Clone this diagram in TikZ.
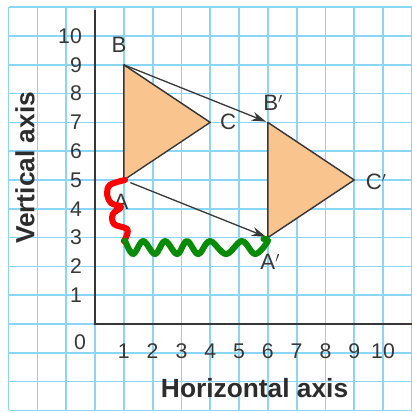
\documentclass[tikz,border=0pt]{standalone}
\usepackage{fontspec}
\setmainfont{Liberation Sans}
\usetikzlibrary{arrows.meta}
\definecolor{gridblue}{RGB}{140,214,245}
\definecolor{triorange}{RGB}{250,196,142}
\definecolor{inkgray}{RGB}{55,55,55}
\definecolor{penred}{RGB}{255,0,0}
\definecolor{pengreen}{RGB}{8,140,8}

\begin{document}
\begin{tikzpicture}[
  gridline/.style={draw=gridblue, line width=1.7pt},
  axis/.style={draw=inkgray, line width=1.5pt},
  tri/.style={draw=inkgray, fill=triorange, line width=1.4pt, line join=round},
  arr/.style={-{Stealth[length=5mm,width=3.2mm]}, draw=inkgray, line width=1.3pt},
  lbl/.style={text=inkgray, font=\fontsize{22}{24}\selectfont, inner sep=0pt},
  ticklbl/.style={text=inkgray, font=\fontsize{21}{24}\selectfont, inner sep=0pt},
  axlbl/.style={text=inkgray!80!black, font=\bfseries\fontsize{26}{28}\selectfont, inner sep=0pt},
  pen/.style={line width=6pt, line cap=round, line join=round},
]
  \useasboundingbox (-3.30,-3.09) rectangle (11.0,11.25);
  \draw[gridline] (-3,-3) grid (11,11);

  \coordinate (O) at (0,0);
  \coordinate (ytop) at (0,10.9);
  \coordinate (xend) at (11,0);
  \draw[axis] (ytop) -- (O) -- (xend);

  \foreach \i in {1,...,10} {
    \node[ticklbl, anchor=east] (y\i) at (-0.45,\i) {\i};
    \node[ticklbl] (x\i) at (\i,-0.94) {\i};
  }
  \node[ticklbl] (zero) at (-0.52,-0.63) {0};

  \node[axlbl] (hlabel) at (5.54,-2.22) {Horizontal axis};
  \node[axlbl, rotate=90] (vlabel) at (-2.43,5.42) {Vertical axis};

  \coordinate (A) at (1,5);
  \coordinate (B) at (1,9);
  \coordinate (C) at (4,7);
  \coordinate (Aimg) at (6,3);
  \coordinate (Bimg) at (6,7);
  \coordinate (Cimg) at (9,5);

  \draw[tri] (A) -- (B) -- (C) -- cycle;
  \draw[tri] (Aimg) -- (Bimg) -- (Cimg) -- cycle;

  \draw[arr, shorten >=2pt] (B) -- (Bimg);
  \draw[arr, shorten <=7pt, shorten >=2pt] (A) -- (Aimg);

  \node[lbl] (labA) at (0.90,4.24) {A};
  \node[lbl] (labB) at (0.83,9.69) {B};
  \node[lbl] (labC) at (4.62,7.01) {C};
  \node[lbl] (labAimg) at (6.08,2.15) {A$'$};
  \node[lbl] (labBimg) at (6.18,7.67) {B$'$};
  \node[lbl] (labCimg) at (9.76,4.93) {C$'$};

  \draw[pen, penred] plot[smooth, tension=0.6] coordinates {
    (1.04,5.00) (0.52,4.83) (0.42,4.51) (0.56,4.20) (0.90,4.06)
    (0.62,3.82) (0.66,3.47) (1.11,3.30) (1.08,3.02) (1.00,2.88)};
  \draw[pen, pengreen] plot[smooth, tension=0.6] coordinates {
    (1.04,2.90) (1.32,2.43) (1.67,2.88) (2.08,2.43) (2.43,2.88)
    (2.85,2.43) (3.19,2.88) (3.58,2.43) (3.99,2.88) (4.55,2.43)
    (5.10,2.88) (5.56,2.43) (6.00,2.88) (5.85,2.95)};
\end{tikzpicture}
\end{document}
